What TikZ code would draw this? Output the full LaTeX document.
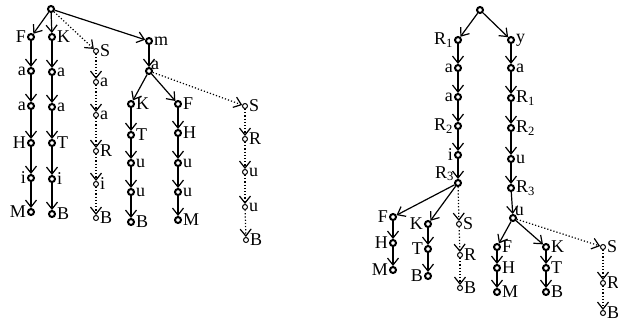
\documentclass[tikz,border=0pt]{standalone}
\usepackage{fontspec}
\setmainfont{Liberation Serif}
\usetikzlibrary{arrows.meta}
\tikzset{
  full/.style={circle, draw, line width=2pt, minimum size=6pt, inner sep=0pt},
  thin/.style={circle, draw, line width=1pt, minimum size=5pt, inner sep=0pt},
  every label/.style={font=\fontsize{18}{20}\selectfont, inner sep=1pt},
  solid edge/.style={->, line width=1.2pt},
  dot edge/.style={->, line width=1.2pt, dotted},
  >={Straight Barb[length=7pt,width=11pt,line width=1.2pt]}
}
\begin{document}
\begin{tikzpicture}[x=1pt,y=-1pt]
\useasboundingbox (0,0) rectangle (618,327);
% left tree
\node[full] (lr) at (51,9) {};
\node[full, label=left:F] (lf1) at (31,37) {};
\node[full, label=left:a] (lf2) at (31,71) {};
\node[full, label=left:a] (lf3) at (31,106) {};
\node[full, label=left:H] (lf4) at (31,143) {};
\node[full, label=left:i] (lf5) at (31,178) {};
\node[full, label=left:M] (lf6) at (31,212) {};
\node[full, label=right:K] (lk1) at (52,37) {};
\node[full, label=right:a] (lk2) at (52,72) {};
\node[full, label=right:a] (lk3) at (52,107) {};
\node[full, label=right:T] (lk4) at (52,143) {};
\node[full, label=right:i] (lk5) at (52,179) {};
\node[full, label=right:B] (lk6) at (52,214) {};
\node[thin, label=right:S] (ls1) at (96,51) {};
\node[thin, label=right:a] (ls2) at (96,82) {};
\node[thin, label=right:a] (ls3) at (96,115) {};
\node[thin, label=right:R] (ls4) at (96,151) {};
\node[thin, label=right:i] (ls5) at (96,184) {};
\node[thin, label=right:B] (ls6) at (96,218) {};
\node[full, label=right:m] (lm) at (149,41) {};
\node[full, label={[label distance=-3pt]30:a}] (la) at (149,71) {};
\node[full, label=right:K] (lkk1) at (131,104) {};
\node[full, label=right:T] (lkk2) at (131,135) {};
\node[full, label=right:u] (lkk3) at (131,163) {};
\node[full, label=right:u] (lkk4) at (131,192) {};
\node[full, label=right:B] (lkk5) at (131,222) {};
\node[full, label=right:F] (lff1) at (178,104) {};
\node[full, label=right:H] (lff2) at (178,133) {};
\node[full, label=right:u] (lff3) at (178,163) {};
\node[full, label=right:u] (lff4) at (178,192) {};
\node[full, label=right:M] (lff5) at (178,220) {};
\node[thin, label=right:S] (lss1) at (245,106) {};
\node[thin, label=right:R] (lss2) at (245,139) {};
\node[thin, label=right:u] (lss3) at (245,172) {};
\node[thin, label=right:u] (lss4) at (245,207) {};
\node[thin, label=right:B] (lss5) at (246,240) {};
\draw[solid edge] (lr) -- (lf1);
\draw[solid edge] (lr) -- (lk1);
\draw[dot edge] (lr) -- (ls1);
\draw[solid edge] (lr) -- (lm);
\foreach \a/\b in {lf1/lf2,lf2/lf3,lf3/lf4,lf4/lf5,lf5/lf6,
  lk1/lk2,lk2/lk3,lk3/lk4,lk4/lk5,lk5/lk6,lm/la,la/lkk1,la/lff1,
  lkk1/lkk2,lkk2/lkk3,lkk3/lkk4,lkk4/lkk5,
  lff1/lff2,lff2/lff3,lff3/lff4,lff4/lff5}
  \draw[solid edge] (\a) -- (\b);
\foreach \a/\b in {ls1/ls2,ls2/ls3,ls3/ls4,ls4/ls5,ls5/ls6,
  la/lss1,lss1/lss2,lss2/lss3,lss3/lss4,lss4/lss5}
  \draw[dot edge] (\a) -- (\b);
% right tree
\node[full] (rr) at (480,10) {};
\node[full, label=left:R\textsubscript{1}] (rl1) at (458,40) {};
\node[full, label=left:a] (rl2) at (458,68) {};
\node[full, label=left:a] (rl3) at (458,97) {};
\node[full, label=left:R\textsubscript{2}] (rl4) at (458,126) {};
\node[full, label=left:i] (rl5) at (458,155) {};
\node[full, label={[label distance=-1pt]165:R\textsubscript{3}}] (rl6) at (458,183) {};
\node[full, label=right:y] (ry1) at (511,40) {};
\node[full, label=right:a] (ry2) at (511,68) {};
\node[full, label=right:R\textsubscript{1}] (ry3) at (511,98) {};
\node[full, label=right:R\textsubscript{2}] (ry4) at (511,128) {};
\node[full, label=right:u] (ry5) at (511,159) {};
\node[full, label=right:R\textsubscript{3}] (ry6) at (511,188) {};
\node[full, label={[label distance=-3pt]40:u}] (ry7) at (513,218) {};
\node[full, label=left:F] (rf1) at (393,217) {};
\node[full, label=left:H] (rf2) at (393,243) {};
\node[full, label=left:M] (rf3) at (393,270) {};
\node[full, label=left:K] (rk1) at (428,224) {};
\node[full, label=left:T] (rk2) at (428,249) {};
\node[full, label=left:B] (rk3) at (428,276) {};
\node[thin, label=right:S] (rs1) at (459,224) {};
\node[thin, label=right:R] (rs2) at (460,255) {};
\node[thin, label=right:B] (rs3) at (460,288) {};
\node[full, label=right:F] (ruf1) at (497,247) {};
\node[full, label=right:H] (ruf2) at (497,268) {};
\node[full, label=right:M] (ruf3) at (497,292) {};
\node[full, label=right:K] (ruk1) at (546,247) {};
\node[full, label=right:T] (ruk2) at (546,268) {};
\node[full, label=right:B] (ruk3) at (546,292) {};
\node[thin, label=right:S] (rus1) at (603,247) {};
\node[thin, label=right:R] (rus2) at (603,283) {};
\node[thin, label=right:B] (rus3) at (603,313) {};
\foreach \a/\b in {rr/rl1,rl1/rl2,rl2/rl3,rl3/rl4,rl4/rl5,rl5/rl6,
  rr/ry1,ry1/ry2,ry2/ry3,ry3/ry4,ry4/ry5,ry5/ry6,ry6/ry7,
  rl6/rf1,rf1/rf2,rf2/rf3,rl6/rk1,rk1/rk2,rk2/rk3,
  ry7/ruf1,ruf1/ruf2,ruf2/ruf3,ry7/ruk1,ruk1/ruk2,ruk2/ruk3}
  \draw[solid edge] (\a) -- (\b);
\foreach \a/\b in {rl6/rs1,rs1/rs2,rs2/rs3,ry7/rus1,rus1/rus2,rus2/rus3}
  \draw[dot edge] (\a) -- (\b);
\end{tikzpicture}
\end{document}
